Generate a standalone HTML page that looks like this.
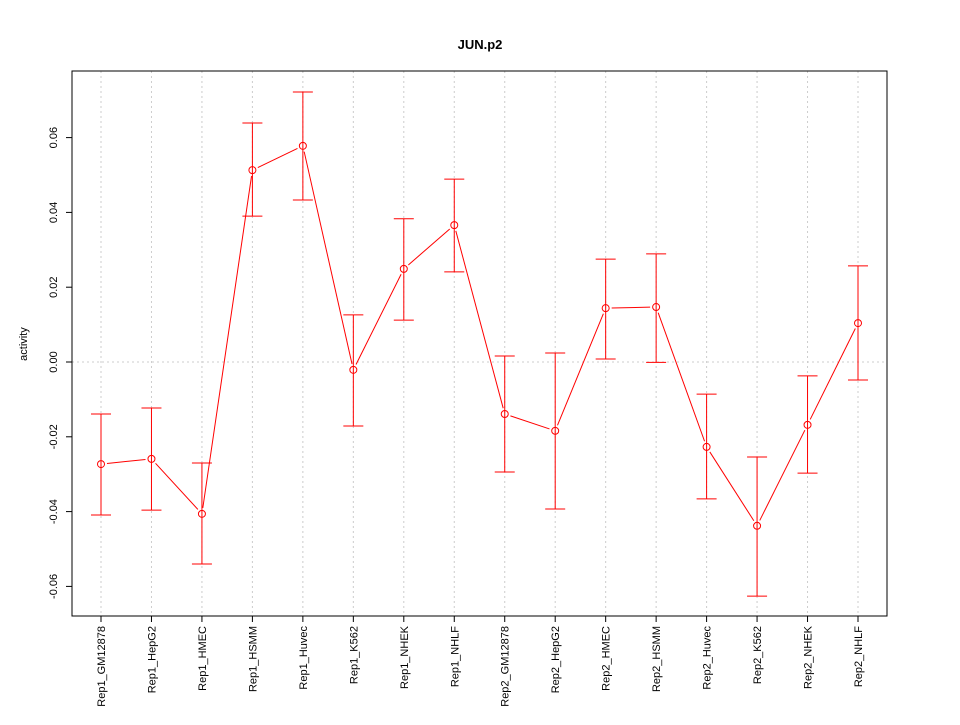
<!DOCTYPE html>
<html><head><meta charset="utf-8"><style>body{margin:0;background:#fff}svg text{font-family:"Liberation Sans",sans-serif}</style></head>
<body>
<svg id="c" width="960" height="720"></svg>
<script>
const categories=["Rep1_GM12878","Rep1_HepG2","Rep1_HMEC","Rep1_HSMM","Rep1_Huvec","Rep1_K562","Rep1_NHEK","Rep1_NHLF","Rep2_GM12878","Rep2_HepG2","Rep2_HMEC","Rep2_HSMM","Rep2_Huvec","Rep2_K562","Rep2_NHEK","Rep2_NHLF"];
const values=[-0.0273,-0.0259,-0.0406,0.0513,0.0578,-0.0021,0.0249,0.0366,-0.0139,-0.0184,0.0144,0.0147,-0.0227,-0.0438,-0.0168,0.0104];
const upper=[-0.0139,-0.0123,-0.0270,0.0639,0.0722,0.0126,0.0383,0.0489,0.0016,0.0024,0.0275,0.0289,-0.0086,-0.0254,-0.0037,0.0257];
const lower=[-0.0409,-0.0396,-0.0540,0.0390,0.0433,-0.0171,0.0112,0.0241,-0.0294,-0.0393,0.0008,-0.0001,-0.0366,-0.0626,-0.0297,-0.0048];
const yTicks=[-0.06,-0.04,-0.02,0.00,0.02,0.04,0.06];
const yTickLabels=["-0.06","-0.04","-0.02","0.00","0.02","0.04","0.06"];
const svg=document.getElementById('c');const NS="http://www.w3.org/2000/svg";
const L=72,R=887,T=71,B=616;
const x=i=>101+i*(858-101)/(categories.length-1);
const y=v=>362-v*3740;
function mk(t,a,name,parent){const e=document.createElementNS(NS,t);for(const k in a)e.setAttribute(k,a[k]);


(parent||svg).appendChild(e);return e;}
categories.forEach((c,i)=>mk('line',{x1:x(i),x2:x(i),y1:T,y2:B,stroke:'#ccc','stroke-dasharray':'2,3'},'grid-v'));
mk('line',{x1:L,x2:R,y1:y(0),y2:y(0),stroke:'#ccc','stroke-dasharray':'2,3'},'grid-zero');
mk('rect',{x:L,y:T,width:R-L,height:B-T,fill:'none',stroke:'#000'},'plot-frame');
yTicks.forEach((v,i)=>{mk('line',{x1:L-6,x2:L,y1:y(v),y2:y(v),stroke:'#000'},'y-tick');
const t=mk('text',{x:L-15,y:y(v),'font-size':11,'text-anchor':'middle',transform:`rotate(-90 ${L-15} ${y(v)})`},'y-tick-label');t.textContent=yTickLabels[i];});
categories.forEach((c,i)=>{mk('line',{x1:x(i),x2:x(i),y1:B,y2:B+6,stroke:'#000'},'x-tick');
const t=mk('text',{x:x(i)+4,y:B+10,'font-size':11,'text-anchor':'end',transform:`rotate(-90 ${x(i)+4} ${B+10})`},'x-tick-label');t.textContent=c;});
const yt=mk('text',{x:27,y:344,'font-size':11,'text-anchor':'middle',transform:'rotate(-90 27 344)'},'y-axis-title');yt.textContent='activity';
const tt=mk('text',{x:480,y:49,'font-size':13,'font-weight':'bold','text-anchor':'middle'},'chart-title');tt.textContent='JUN.p2';
values.forEach((v,i)=>{const g=mk('g',{stroke:'#f00',fill:'none'},'error-bar');
mk('line',{x1:x(i),x2:x(i),y1:y(upper[i]),y2:y(lower[i])},'error-bar-stem',g);
mk('line',{x1:x(i)-10,x2:x(i)+10,y1:y(upper[i]),y2:y(upper[i])},'error-bar-cap',g);
mk('line',{x1:x(i)-10,x2:x(i)+10,y1:y(lower[i]),y2:y(lower[i])},'error-bar-cap',g);});
for(let i=0;i<values.length-1;i++){const x1=x(i),y1=y(values[i]),x2=x(i+1),y2=y(values[i+1]);
const d=Math.hypot(x2-x1,y2-y1),g=6/d;
mk('line',{x1:x1+(x2-x1)*g,y1:y1+(y2-y1)*g,x2:x2-(x2-x1)*g,y2:y2-(y2-y1)*g,stroke:'#f00'},'series-line');}
values.forEach((v,i)=>mk('circle',{cx:x(i),cy:y(v),r:3.5,fill:'none',stroke:'#f00'},'data-point'));
</script>
</body></html>
